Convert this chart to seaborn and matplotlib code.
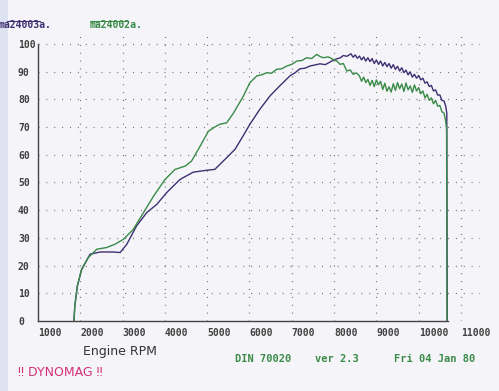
import matplotlib
matplotlib.use("Agg")

import matplotlib.pyplot as plt
import seaborn as sns
import pandas as pd
from matplotlib.lines import Line2D
from matplotlib.patches import Rectangle


# ======================
# Data
# ======================

green_rpm = [
    1850, 1870, 1930, 2030, 2190, 2390, 2620, 2820, 3020, 3250,
    3490, 3730, 4000, 4240, 4480, 4630, 4830, 5030, 5180, 5300,
    5460, 5620, 5850, 6010, 6170, 6300, 6410, 6520, 6640, 6760,
    6880, 7000, 7120, 7240, 7350, 7470, 7590, 7670, 7750, 7860,
    7980, 8060, 8140, 8220, 8300, 8380, 8450, 8530,
    8600, 8650, 8700, 8750, 8800, 8850, 8900, 8950, 9000, 9050,
    9100, 9150, 9200, 9250, 9300, 9350, 9400, 9450, 9500, 9550,
    9600, 9650, 9700, 9750, 9800, 9850, 9900, 9950, 10000, 10050,
    10100, 10150, 10200, 10250, 10300, 10350, 10400, 10450, 10500, 10550,
    10600, 10640, 10660, 10670,
]
green_power = [
    0.0, 5.4, 12.7, 18.7, 22.9, 25.9, 26.5, 27.7, 29.5, 33.0,
    39.0, 45.0, 51.0, 54.7, 55.9, 57.7, 63.0, 68.5, 70.0, 71.0,
    71.5, 75.0, 81.0, 86.0, 88.4, 88.9, 89.6, 89.4, 90.8, 91.0,
    92.0, 92.6, 93.8, 94.0, 95.0, 94.7, 96.2, 95.4, 95.0, 95.3,
    94.4, 93.9, 92.6, 92.9, 90.2, 90.6, 89.0, 89.5,
    88.4, 86.5, 88.0, 86.0, 87.2, 85.0, 86.8, 84.6, 87.0, 85.2,
    86.5, 83.5, 85.8, 82.9, 84.5, 82.6, 85.6, 83.2, 86.0, 83.8,
    85.5, 82.8, 85.9, 83.4, 84.8, 82.5, 85.2, 83.0, 84.2, 82.0,
    83.0, 80.5, 81.8, 79.6, 80.5, 78.4, 79.6, 77.5, 77.8, 75.5,
    75.0, 72.0, 69.0, 0.0,
]

purple_rpm = [
    1850, 1870, 1930, 2030, 2230, 2470, 2780, 2940, 3100, 3330,
    3570, 3810, 4040, 4360, 4670, 4990, 5180, 5460, 5660, 5850,
    6010, 6250, 6490, 6720, 6960, 7080, 7190, 7310, 7430, 7550,
    7670, 7790, 7900, 7980, 8060, 8140, 8220, 8300,
    8400, 8450, 8500, 8550, 8600, 8650, 8700, 8750, 8800, 8850,
    8900, 8950, 9000, 9050, 9100, 9150, 9200, 9250, 9300, 9350,
    9400, 9450, 9500, 9550, 9600, 9650, 9700, 9750, 9800, 9850,
    9900, 9950, 10000, 10050, 10100, 10150, 10200, 10250, 10300, 10350,
    10400, 10450, 10500, 10550, 10600, 10640, 10665, 10675,
]
purple_power = [
    0.0, 5.4, 12.5, 18.5, 24.1, 24.9, 24.9, 24.7, 27.7, 34.3,
    39.1, 42.1, 46.3, 51.1, 53.7, 54.4, 54.7, 58.9, 62.0, 66.8,
    71.0, 76.5, 81.3, 84.9, 88.5, 89.6, 91.0, 91.2, 92.0, 92.4,
    92.8, 92.5, 93.4, 94.1, 94.6, 94.9, 95.8, 95.5,
    96.4, 95.2, 96.0, 94.8, 95.6, 94.2, 95.3, 93.8, 95.0, 93.6,
    94.7, 92.9, 94.2, 92.6, 93.8, 92.0, 93.3, 91.8, 92.9, 91.2,
    92.5, 90.8, 91.9, 90.2, 91.4, 89.6, 90.5, 88.8, 89.9, 88.0,
    89.0, 87.6, 88.6, 87.0, 87.6, 85.8, 86.3, 84.6, 85.0, 83.0,
    83.4, 81.5, 81.6, 79.6, 79.4, 77.5, 75.0, 0.0,
]

x_ticks = [1000, 2000, 3000, 4000, 5000, 6000, 7000, 8000, 9000, 10000, 11000]
y_ticks = [0, 10, 20, 30, 40, 50, 60, 70, 80, 90, 100]

run_names = ["ma24003a.", "ma24002a."]
run_colors = ["#3f2f72", "#3a8a48"]

df = pd.concat([
    pd.DataFrame({"rpm": purple_rpm, "power": purple_power, "run": run_names[0]}),
    pd.DataFrame({"rpm": green_rpm, "power": green_power, "run": run_names[1]}),
])


# ======================
# Figure
# ======================

sns.set_theme(style="white")
plt.rcParams["font.family"] = ["DejaVu Sans"]

paper = "#f5f5f9"

fig = plt.figure(figsize=(4.99, 3.91), dpi=100, facecolor=paper)
ax = fig.add_axes([38 / 499, 70 / 391, 442 / 499, 291 / 391])
ax.set_facecolor(paper)

fig.patches.append(Rectangle((0, 0), 8 / 499, 1, transform=fig.transFigure,
                             facecolor="#dde3f1", edgecolor="none", zorder=0))

sns.lineplot(
    data=df, x="rpm", y="power", hue="run",
    palette=dict(zip(run_names, run_colors)),
    estimator=None, sort=False, linewidth=1.0, legend=False, ax=ax,
)

ax.set_xlim(1000, 11450)
ax.set_ylim(0, 105)
ax.set_xlabel("")
ax.set_ylabel("")

ax.set_xticks(x_ticks)
ax.set_yticks(y_ticks)

mono = {"family": "DejaVu Sans Mono", "weight": "bold", "size": 7}
ax.set_xticklabels([str(t) for t in x_ticks], fontdict=mono, ha="left", color="#404040")
ax.set_yticklabels([str(t) for t in y_ticks], fontdict=mono, ha="left", color="#404040")
ax.tick_params(axis="x", length=0, pad=5)
ax.tick_params(axis="y", length=0, pad=14.4)

ax.grid(True, color="#707070", linestyle=(0, (0.8, 5.5)), linewidth=0.9)
for t in ax.yaxis.get_gridlines()[:1]:
    t.set_visible(False)
for t in ax.xaxis.get_gridlines()[:1]:
    t.set_visible(False)

for side in ["top", "right"]:
    ax.spines[side].set_visible(False)
ax.spines["left"].set_bounds(0, 100)
ax.spines["bottom"].set_bounds(1000, 10700)
for side in ["left", "bottom"]:
    ax.spines[side].set_color("#444444")
    ax.spines[side].set_linewidth(1.0)


# ======================
# Header / footer texts
# ======================

def px(x, y):
    return x / 499, 1 - y / 391

fig.text(*px(-1, 25), run_names[0], color=run_colors[0], fontdict=mono, va="center")
fig.text(*px(90, 25), run_names[1], color=run_colors[1], fontdict=mono, va="center")
fig.add_artist(Line2D([7 / 499, 40 / 499], [1 - 21 / 391] * 2, color=run_colors[0], lw=0.8))
fig.add_artist(Line2D([90 / 499, 127 / 499], [1 - 21 / 391] * 2, color=run_colors[1], lw=0.8))

fig.text(*px(83, 352), "Engine RPM", color="#333333", fontsize=9, va="center")

foot = {"family": "DejaVu Sans Mono", "weight": "bold", "size": 7.5}
fig.text(*px(235, 359), "DIN 70020", color="#3a8a48", fontdict=foot, va="center")
fig.text(*px(315, 359), "ver 2.3", color="#3a8a48", fontdict=foot, va="center")
fig.text(*px(394, 359), "Fri 04 Jan 80", color="#3a8a48", fontdict=foot, va="center")

fig.text(*px(18, 373), "\u203c DYNOMAG \u203c", color="#d4307a", fontsize=9, va="center")

fig.savefig("out.png", dpi=100, facecolor=paper)
plt.close(fig)
